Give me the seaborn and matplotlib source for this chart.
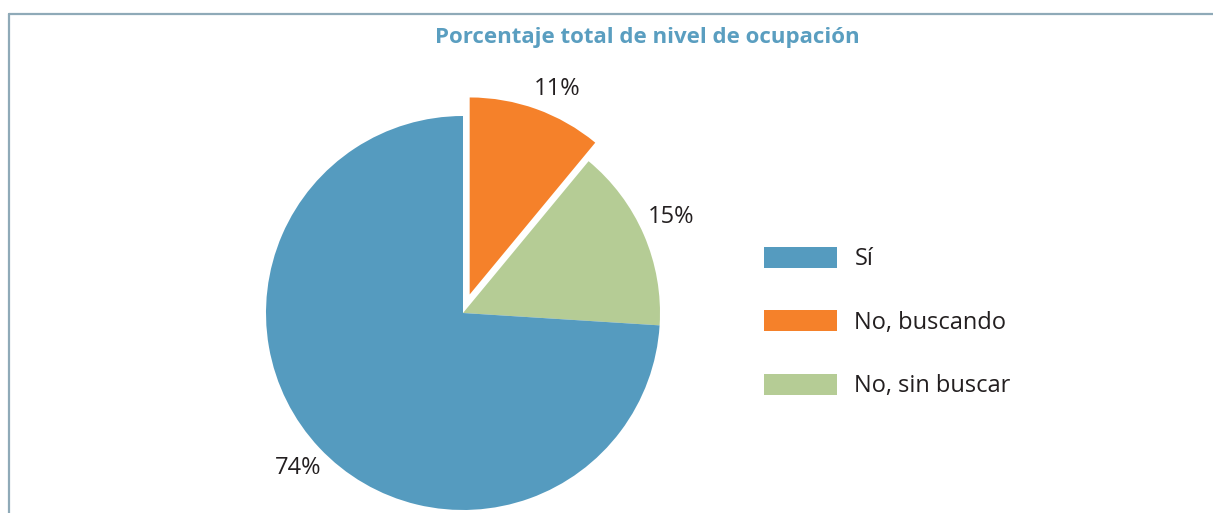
import seaborn as sns
import matplotlib.pyplot as plt
from matplotlib.lines import Line2D
from matplotlib.patches import Patch

categories = ["Sí", "No, buscando", "No, sin buscar"]
values = [74, 11, 15]
pct_labels = ["74%", "11%", "15%"]
colors = ["#559BBF", "#F5812A", "#B5CC95"]
title = "Porcentaje total de nivel de ocupación"

sns.set_theme(style="white")
plt.rcParams["font.family"] = ["Open Sans", "DejaVu Sans"]

W, H = 1213, 513
fig = plt.figure(figsize=(W / 100, H / 100), dpi=100)

# pie axes, centre (463, 313) px from top, radius ~197 px
R = 197
lim = 1.35
size = 2 * lim * R
cx, cy = 463, H - 313
ax = fig.add_axes([(cx - size / 2) / W, (cy - size / 2) / H, size / W, size / H])

# draw in clockwise order starting at the top: orange, green, blue
order = [1, 2, 0]
wedges, texts = ax.pie(
    [values[i] for i in order],
    colors=[colors[i] for i in order],
    labels=[pct_labels[i] for i in order],
    explode=[0.1, 0, 0],
    startangle=90,
    counterclock=False,
    labeldistance=1.15,
    wedgeprops=dict(linewidth=0),
    textprops=dict(fontsize=17, color="#231F20"),
)
for t in texts:
    t.set_horizontalalignment("center")
    t.set_verticalalignment("center")
# small nudges to match the original label placement
x, y = texts[0].get_position()
texts[0].set_position((x + 0.055, y - 0.04))
x, y = texts[1].get_position()
texts[1].set_position((x, y + 0.03))
ax.set_xlim(-lim, lim)
ax.set_ylim(-lim, lim)
ax.set_aspect("equal")
ax.axis("off")

fig.text(647 / W, 1 - 38 / H, title, ha="center", va="center",
         fontsize=16, fontweight="bold", color="#5A9EC0")

handles = [Patch(facecolor=c, edgecolor="none") for c in colors]
fig.legend(handles, categories, loc="upper left",
           bbox_to_anchor=(747 / W, 1 - 230 / H), frameon=False,
           fontsize=17, handlelength=3.1, handleheight=1.0,
           handletextpad=0.75, labelspacing=1.65, labelcolor="#231F20",
           borderpad=0.2)

# frame lines (left and top)
fc = "#8FAAB8"
fig.add_artist(Line2D([9 / W, 9 / W], [0, 1 - 14 / H], color=fc, lw=1.6,
                      transform=fig.transFigure))
fig.add_artist(Line2D([9 / W, 1], [1 - 14 / H, 1 - 14 / H], color=fc, lw=1.6,
                      transform=fig.transFigure))

fig.savefig("out.png", dpi=100, facecolor="white")
